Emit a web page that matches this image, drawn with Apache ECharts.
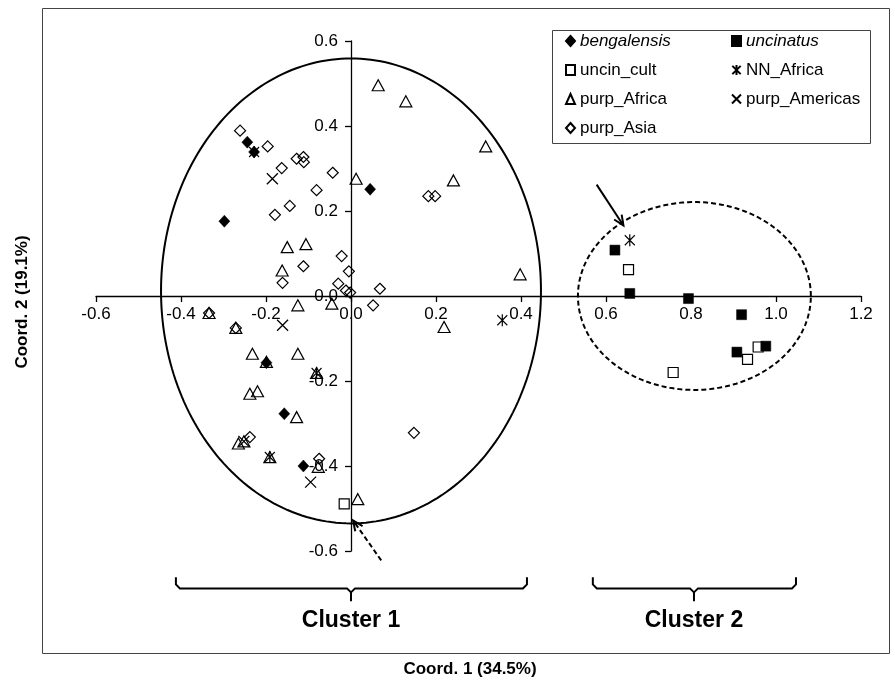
<!DOCTYPE html>
<html>
<head>
<meta charset="utf-8">
<script src="https://cdn.jsdelivr.net/npm/echarts@6/dist/echarts.min.js"></script>
<style>html,body{margin:0;padding:0;background:#fff;}#c{width:895px;height:689px;}</style>
</head>
<body>
<div id="c"></div>
<script>
// ---- data (Coord.1, Coord.2) ----
const bengalensis = [[-0.244,0.362],[-0.228,0.339],[0.045,0.251],[-0.298,0.176],[-0.199,-0.157],[-0.157,-0.277],[-0.112,-0.400]];
const uncinatus = [[0.621,0.108],[0.656,0.006],[0.794,-0.006],[0.919,-0.044],[0.908,-0.132],[0.976,-0.118]];
const uncin_cult = [[0.653,0.062],[0.933,-0.149],[0.958,-0.120],[0.758,-0.180],[-0.016,-0.489]];
const NN_Africa = [[-0.228,0.339],[0.656,0.131],[0.356,-0.057],[-0.081,-0.181],[-0.191,-0.379]];
const purp_Africa = [[0.064,0.496],[0.129,0.458],[0.317,0.352],[0.012,0.276],[0.241,0.272],[0.398,0.051],
  [-0.150,0.115],[-0.106,0.122],[-0.162,0.060],[-0.334,-0.040],[-0.271,-0.075],[-0.125,-0.022],[-0.045,-0.018],
  [-0.232,-0.136],[-0.199,-0.155],[-0.125,-0.136],[-0.081,-0.181],[-0.238,-0.230],[-0.220,-0.224],[-0.128,-0.285],
  [-0.265,-0.347],[-0.252,-0.342],[-0.191,-0.379],[-0.077,-0.402],[0.219,-0.073],[0.016,-0.478]];
const purp_Americas = [[-0.185,0.276],[-0.161,-0.069],[-0.095,-0.438],[-0.252,-0.342]];
const purp_Asia = [[-0.261,0.389],[-0.196,0.352],[-0.128,0.323],[-0.112,0.327],[-0.111,0.315],[-0.163,0.301],
  [-0.043,0.290],[-0.081,0.249],[0.182,0.235],[0.198,0.235],[-0.144,0.212],[-0.179,0.191],[-0.112,0.070],
  [-0.161,0.031],[-0.022,0.094],[-0.005,0.058],[-0.030,0.029],[-0.012,0.013],[-0.002,0.008],[0.068,0.017],
  [0.052,-0.022],[-0.334,-0.040],[-0.271,-0.075],[-0.238,-0.332],[-0.075,-0.383],[0.148,-0.322]];

const xTitle = 'Coord. 1 (34.5%)';
const yTitle = 'Coord. 2 (19.1%)';
const clusterNames = ['Cluster 1','Cluster 2'];

// ---- annotation geometry (data space) ----
const ell1 = {cx:0.0, cy:0.012, rx:0.447, ry:0.547};
const ell2 = {cx:0.808, cy:0.0, rx:0.274, ry:0.221};
const arrowSolid = {from:[0.578,0.262], to:[0.641,0.166]};
const arrowDashed = {from:[0.071,-0.622], to:[0.005,-0.528]};
const braces = [{x1:-0.412, x2:0.414, xm:0.0}, {x1:0.569, x2:1.047, xm:0.807}];
const braceY = {top:-0.662, mid:-0.688, tip:-0.718, label:-0.765};

const FONT = '"Liberation Sans", Arial, Helvetica, sans-serif';
const chart = echarts.init(document.getElementById('c'), null, {renderer:'canvas'});

function arrowEls(a, dashed, api){
  const p0 = api.coord(a.from), p1 = api.coord(a.to);
  const dx = p1[0]-p0[0], dy = p1[1]-p0[1], L = Math.hypot(dx,dy);
  const ux = dx/L, uy = dy/L, h = 11, ang = 0.42;
  const rot = (s)=>[ux*Math.cos(s)-uy*Math.sin(s), ux*Math.sin(s)+uy*Math.cos(s)];
  const r1 = rot(ang), r2 = rot(-ang);
  return [
    {type:'line', shape:{x1:p0[0],y1:p0[1],x2:p1[0],y2:p1[1]}, style:{stroke:'#000', lineWidth:2, lineDash: dashed?[5,3]:null}},
    {type:'polyline', shape:{points:[[p1[0]-r1[0]*h,p1[1]-r1[1]*h],p1,[p1[0]-r2[0]*h,p1[1]-r2[1]*h]]}, style:{stroke:'#000', lineWidth:2, fill:'none'}}
  ];
}
function ellipseEl(e, dashed, api){
  const pts = [];
  for (let i=0;i<240;i++){ const t=i/240*2*Math.PI; pts.push(api.coord([e.cx+e.rx*Math.cos(t), e.cy+e.ry*Math.sin(t)])); }
  return {type:'polygon', shape:{points:pts}, style:{fill:'none', stroke:'#000', lineWidth:2, lineDash: dashed?[5,3]:null}};
}
function braceEls(b, i, api){
  const A = api.coord([b.x1, braceY.top]), B = api.coord([b.x2, braceY.top]);
  const M = api.coord([b.xm, braceY.mid]), T = api.coord([b.xm, braceY.tip]);
  const my = M[1], r = 4;
  const pts = [[A[0],A[1]],[A[0],my-r],[A[0]+r,my],[M[0]-r,my],[M[0],my+r],[M[0],T[1]]];
  const pts2 = [[B[0],B[1]],[B[0],my-r],[B[0]-r,my],[M[0]+r,my],[M[0],my+r]];
  const L = api.coord([b.xm, braceY.label]);
  return [
    {type:'polyline', shape:{points:pts}, style:{stroke:'#000', lineWidth:2, fill:'none'}},
    {type:'polyline', shape:{points:pts2}, style:{stroke:'#000', lineWidth:2, fill:'none'}},
    {type:'text', x:L[0], y:L[1], style:{text:clusterNames[i], font:'bold 23px '+FONT, fill:'#000', align:'center', verticalAlign:'middle'}}
  ];
}

const hollow = {color:'rgba(0,0,0,0)', borderColor:'#000', borderWidth:1.2, opacity:1};
const filled = {color:'#000', borderColor:'#000', borderWidth:0.5, opacity:1};
const lineSym = {color:'#000', borderColor:'#000', borderWidth:1.3, opacity:1};
const base = {type:'scatter', emphasis:{disabled:true}, z:5};
const legendText = {fontSize:17, fontFamily:FONT, color:'#000', lineHeight:20, rich:{i:{fontStyle:'italic', fontSize:17, fontFamily:FONT}}};

const option = {
  animation:false,
  backgroundColor:'#fff',
  grid:{left:96, right:34, top:41, bottom:138, containLabel:false},
  xAxis:{type:'value', min:-0.6, max:1.2, interval:0.2, position:'bottom', offset:-255,
    axisLine:{onZero:false, lineStyle:{color:'#000', width:1.3}},
    axisTick:{show:true, length:6, lineStyle:{color:'#000', width:1.3}},
    axisLabel:{margin:10, fontSize:17, fontFamily:FONT, color:'#000', showMinLabel:true, showMaxLabel:true, formatter:v=>v.toFixed(1)},
    splitLine:{show:false}},
  yAxis:{type:'value', min:-0.6, max:0.6, interval:0.2, position:'left', offset:-255,
    axisLine:{onZero:false, lineStyle:{color:'#000', width:1.3}},
    axisTick:{show:true, length:6, lineStyle:{color:'#000', width:1.3}},
    axisLabel:{margin:13, fontSize:17, fontFamily:FONT, color:'#000', showMinLabel:true, showMaxLabel:true, formatter:v=>v.toFixed(1)},
    splitLine:{show:false}},
  legend:[
    {data:['bengalensis','uncin_cult','purp_Africa','purp_Asia'], orient:'vertical', left:565, top:31, padding:0,
     itemWidth:9, itemHeight:10, itemGap:9, selectedMode:false, textStyle:legendText,
     formatter:n=> n==='bengalensis' ? '{i|'+n+'}' : n},
    {data:['uncinatus','NN_Africa','purp_Americas'], orient:'vertical', left:731, top:31, padding:0,
     itemWidth:9, itemHeight:10, itemGap:9, selectedMode:false, textStyle:legendText,
     formatter:n=> n==='uncinatus' ? '{i|'+n+'}' : n}
  ],
  graphic:[
    {type:'rect', left:40, top:6, shape:{width:847, height:645}, style:{fill:'none', stroke:'#444', lineWidth:1}, z:0},
    {type:'rect', left:552, top:30, shape:{width:318, height:113}, style:{fill:'#fff', stroke:'#444', lineWidth:1}, z:1},
    {type:'text', x:22, y:302, rotation:Math.PI/2, style:{text:yTitle, font:'bold 17px '+FONT, fill:'#000', align:'center', verticalAlign:'middle'}},
    {type:'text', x:470, y:669, style:{text:xTitle, font:'bold 17px '+FONT, fill:'#000', align:'center', verticalAlign:'middle'}}
  ],
  series:[
    {type:'custom', name:'annotations', coordinateSystem:'cartesian2d', data:[[0,0]], clip:false, silent:true, z:3,
     renderItem:function(params, api){
       let ch = [ellipseEl(ell1,false,api), ellipseEl(ell2,true,api)];
       ch = ch.concat(arrowEls(arrowSolid,false,api), arrowEls(arrowDashed,true,api));
       braces.forEach((b,i)=>{ ch = ch.concat(braceEls(b,i,api)); });
       return {type:'group', children:ch};
     }},
    Object.assign({}, base, {name:'purp_Africa', data:purp_Africa, symbol:'triangle', symbolSize:[12,11], itemStyle:hollow}),
    Object.assign({}, base, {name:'purp_Asia', data:purp_Asia, symbol:'diamond', symbolSize:[11,11], itemStyle:hollow}),
    Object.assign({}, base, {name:'uncin_cult', data:uncin_cult, symbol:'rect', symbolSize:[10,10], itemStyle:hollow}),
    Object.assign({}, base, {name:'purp_Americas', data:purp_Americas, symbol:'path://M0,0L10,10M10,0L0,10', symbolSize:[11,11], itemStyle:lineSym}),
    Object.assign({}, base, {name:'NN_Africa', data:NN_Africa, symbol:'path://M0,1L10,11M10,1L0,11M5,0L5,12', symbolSize:[10,12], itemStyle:lineSym}),
    Object.assign({}, base, {name:'bengalensis', data:bengalensis, symbol:'diamond', symbolSize:[11,12], itemStyle:filled}),
    Object.assign({}, base, {name:'uncinatus', data:uncinatus, symbol:'rect', symbolSize:[10,10], itemStyle:filled})
  ]
};
chart.setOption(option);
</script>
</body>
</html>
